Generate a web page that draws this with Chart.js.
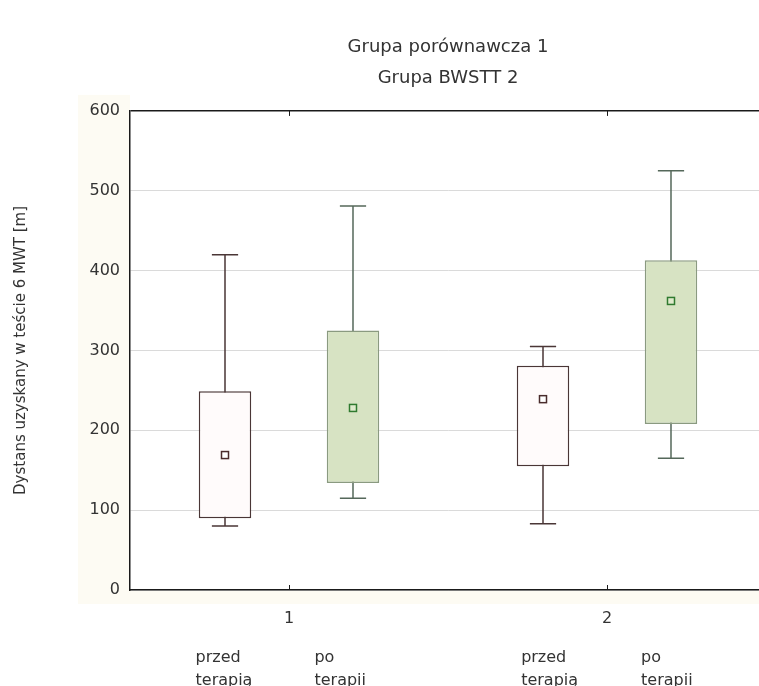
<!DOCTYPE html>
<html>
<head>
<meta charset="utf-8">
<script src="https://cdn.jsdelivr.net/npm/chart.js@4.4.0/dist/chart.umd.min.js"></script>
<style>
html, body { margin: 0; padding: 0; background: #fff; overflow: hidden; }
#wrap { width: 759px; height: 686px; overflow: hidden; }
</style>
</head>
<body>
<div id="wrap"><canvas id="boxChart" width="772" height="705"></canvas></div>
<script>
// groups on the x axis
var groups = ['1', '2'];
var titleLines = ['Grupa porównawcza 1', 'Grupa BWSTT 2'];
var yTitle = 'Dystans uzyskany w teście 6 MWT [m]';
var yTicks = [0, 100, 200, 300, 400, 500, 600];

// przed terapią (white boxes)
var przedMin = [80, 83];
var przedQ1 = [90, 155];
var przedQ3 = [249, 281];
var przedMax = [420, 305];
var przedMean = [169, 239];

// po terapii (green boxes)
var poMin = [115, 165];
var poQ1 = [134, 208];
var poQ3 = [325, 413];
var poMax = [481, 525];
var poMean = [228, 362];

// labels under each box, and where they start on the second axis
var subLabels = [['przed', 'terapią'], ['po', 'terapii'], ['przed', 'terapią'], ['po', 'terapii']];
var subLabelPos = [0.706, 1.08, 1.73, 2.107];

var fontFamily = '"DejaVu Sans", "Open Sans", sans-serif';

function ranges(lo, hi) {
    return lo.map(function(v, i) { return [v, hi[i]]; });
}

// whiskers under the boxes, mean squares on top
var boxWhiskers = {
    id: 'boxWhiskers',
    beforeDatasetsDraw: function(chart) {
        var ctx = chart.ctx;
        var y = chart.scales.y;
        chart.data.datasets.forEach(function(ds, i) {
            var meta = chart.getDatasetMeta(i);
            meta.data.forEach(function(bar, j) {
                var yTop = y.getPixelForValue(ds.whiskerMax[j]);
                var yBot = y.getPixelForValue(ds.whiskerMin[j]);
                var cap = bar.width / 4;
                ctx.save();
                ctx.strokeStyle = ds.whiskerColor;
                ctx.lineWidth = 1.5;
                ctx.beginPath();
                ctx.moveTo(bar.x, yTop);
                ctx.lineTo(bar.x, yBot);
                ctx.moveTo(bar.x - cap, yTop);
                ctx.lineTo(bar.x + cap, yTop);
                ctx.moveTo(bar.x - cap, yBot);
                ctx.lineTo(bar.x + cap, yBot);
                ctx.stroke();
                ctx.restore();
            });
        });
    },
    afterDatasetsDraw: function(chart) {
        var ctx = chart.ctx;
        var y = chart.scales.y;
        chart.data.datasets.forEach(function(ds, i) {
            var meta = chart.getDatasetMeta(i);
            meta.data.forEach(function(bar, j) {
                var my = y.getPixelForValue(ds.means[j]);
                ctx.save();
                ctx.fillStyle = ds.meanFill;
                ctx.strokeStyle = ds.meanColor;
                ctx.lineWidth = 1.5;
                ctx.fillRect(bar.x - 3.5, my - 3.5, 7, 7);
                ctx.strokeRect(bar.x - 3.5, my - 3.5, 7, 7);
                ctx.restore();
            });
        });
    }
};

// white page with the faint cream strips of the scan, plus inner tick marks
var frameExtras = {
    id: 'frameExtras',
    beforeDraw: function(chart) {
        var ctx = chart.ctx;
        var a = chart.chartArea;
        ctx.save();
        ctx.fillStyle = '#ffffff';
        ctx.fillRect(0, 0, chart.width, chart.height);
        ctx.fillStyle = '#fdfbf3';
        ctx.fillRect(a.left - 52, a.top - 16, 52, a.bottom - a.top + 30);
        ctx.fillRect(a.left, a.bottom, a.right - a.left, 14);
        ctx.restore();
    },
    afterDraw: function(chart) {
        var ctx = chart.ctx;
        var a = chart.chartArea;
        var x = chart.scales.x;
        ctx.save();
        ctx.strokeStyle = '#1a1a1a';
        ctx.lineWidth = 1;
        ctx.beginPath();
        x.ticks.forEach(function(t, i) {
            var px = Math.round(x.getPixelForTick(i)) + 0.5;
            ctx.moveTo(px, a.bottom);
            ctx.lineTo(px, a.bottom - 5);
            ctx.moveTo(px, a.top);
            ctx.lineTo(px, a.top + 5);
        });
        ctx.stroke();
        ctx.restore();
    }
};

var ctx = document.getElementById('boxChart');
var myChart = new Chart(ctx, {
    type: 'bar',
    data: {
        labels: groups,
        datasets: [
            {
                label: 'przed terapią',
                data: ranges(przedQ1, przedQ3),
                whiskerMin: przedMin,
                whiskerMax: przedMax,
                means: przedMean,
                backgroundColor: '#fffbfb',
                borderColor: '#4a3636',
                borderWidth: 1.5,
                borderSkipped: false,
                whiskerColor: '#4a3636',
                meanColor: '#4a2c2c',
                meanFill: '#ffffff',
                barPercentage: 0.41,
                categoryPercentage: 0.805
            },
            {
                label: 'po terapii',
                data: ranges(poQ1, poQ3),
                whiskerMin: poMin,
                whiskerMax: poMax,
                means: poMean,
                backgroundColor: '#d7e3c3',
                borderColor: '#8a9a80',
                borderWidth: 1.5,
                borderSkipped: false,
                whiskerColor: '#55685a',
                meanColor: '#2f7a2f',
                meanFill: '#dfeacc',
                barPercentage: 0.41,
                categoryPercentage: 0.805
            }
        ]
    },
    options: {
        responsive: false,
        animation: false,
        layout: { padding: { left: 0, right: 6, top: 0, bottom: 0 } },
        plugins: {
            legend: { display: false },
            tooltip: { enabled: false },
            title: {
                display: true,
                fullSize: false,
                text: titleLines,
                color: '#333333',
                font: { family: fontFamily, size: 18, weight: 'normal', lineHeight: 1.72 },
                padding: { top: 32, bottom: 17 }
            }
        },
        scales: {
            x: {
                type: 'category',
                offset: true,
                grid: { display: false },
                border: { display: true, color: '#1a1a1a', width: 1.5 },
                ticks: { color: '#333333', padding: 11, font: { family: fontFamily, size: 16 } },
                afterFit: function(s) { s.height = 40; }
            },
            x2: {
                type: 'linear',
                position: 'bottom',
                weight: 1,
                offset: false,
                min: 0.5,
                max: 2.5,
                grid: { display: false, offset: false },
                border: { display: false },
                afterBuildTicks: function(s) {
                    s.ticks = subLabelPos.map(function(v) { return { value: v }; });
                },
                ticks: {
                    align: 'start',
                    autoSkip: false,
                    maxRotation: 0,
                    padding: 8,
                    color: '#333333',
                    font: { family: fontFamily, size: 16, lineHeight: 1.44 },
                    callback: function(value, index) { return subLabels[index]; }
                },
                afterFit: function(s) { s.height = 75; }
            },
            y: {
                min: 0,
                max: 600,
                afterBuildTicks: function(s) {
                    s.ticks = yTicks.map(function(v) { return { value: v }; });
                },
                grid: {
                    drawTicks: false,
                    color: function(c) { return c.tick && c.tick.value === 600 ? '#1a1a1a' : '#dadada'; },
                    lineWidth: function(c) { return c.tick && c.tick.value === 600 ? 1.5 : 1; }
                },
                border: { display: true, color: '#1a1a1a', width: 1.5 },
                ticks: { color: '#333333', padding: 10, font: { family: fontFamily, size: 16 } },
                title: {
                    display: true,
                    text: yTitle,
                    color: '#333333',
                    font: { family: fontFamily, size: 15 },
                    padding: { top: 12, bottom: 0 }
                },
                afterFit: function(s) { s.width = 130; }
            }
        }
    },
    plugins: [frameExtras, boxWhiskers]
});
</script>
</body>
</html>
